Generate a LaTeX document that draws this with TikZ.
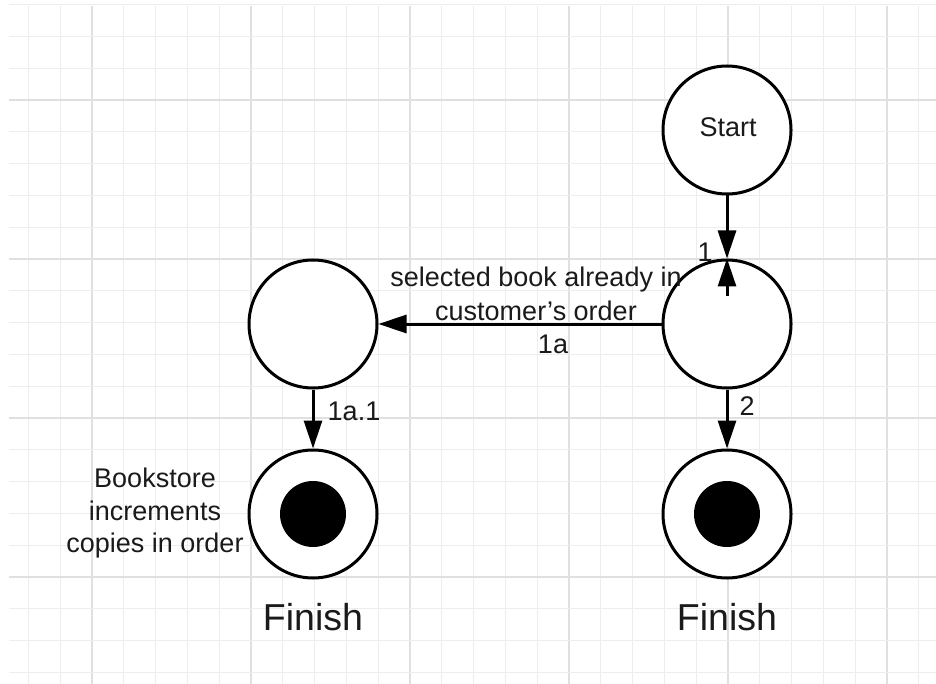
\documentclass[tikz,border=0pt]{standalone}
\usepackage{fontspec}
\setmainfont{Liberation Sans}
\usetikzlibrary{arrows.meta}
\definecolor{gridminor}{HTML}{EDEDED}
\definecolor{gridmajor}{HTML}{E0E0E0}
\definecolor{ink}{HTML}{1A1A1A}
\begin{document}
\begin{tikzpicture}[x=1pt,y=-1pt,
  state/.style={circle,draw=black,line width=3pt,minimum size=128pt,inner sep=0pt,fill=white},
  dot/.style={circle,fill=black,minimum size=66pt,inner sep=0pt},
  arr/.style={line width=3pt,-{Triangle[length=28pt,width=18pt]}},
  lbl/.style={text=ink,font=\fontsize{27}{33}\selectfont,inner sep=0pt,anchor=base},
  big/.style={text=ink,font=\fontsize{37.5}{40}\selectfont,inner sep=0pt,anchor=base}]
\useasboundingbox (0,0) rectangle (936,684);
\fill[white] (0,0) rectangle (936,684);
% grid
\foreach \k in {-2,...,26}{
  \pgfmathsetmacro{\xx}{92+31.8*\k}
  \pgfmathtruncatemacro{\m}{mod(\k+10,5)}
  \ifnum\m=0 \draw[gridmajor,line width=1.3pt] (\xx,6) -- (\xx,684);
  \else \draw[gridminor,line width=1.1pt] (\xx,6) -- (\xx,684); \fi
}
\foreach \k in {-3,...,18}{
  \pgfmathsetmacro{\yy}{100+31.8*\k}
  \pgfmathtruncatemacro{\m}{mod(\k+10,5)}
  \ifnum\m=0 \draw[gridmajor,line width=1.3pt] (9,\yy) -- (936,\yy);
  \else \draw[gridminor,line width=1.1pt] (9,\yy) -- (936,\yy); \fi
}
% states
\node[state] (start) at (727,130) {};
\node[lbl] (starttxt) at (728,137) {Start};
\node[state] (mid) at (727,324) {};
\node[state] (left) at (313,324) {};
\node[state] (fin1) at (313,514) {};
\node[dot] (fin1dot) at (313,514) {};
\node[state] (fin2) at (727,514) {};
\node[dot] (fin2dot) at (727,514) {};
% connectors
\draw[arr] (start) -- (mid);
\coordinate (midin) at (727,296);
\draw[arr] (midin) -- (mid.north);
\draw[arr] (mid) -- (left);
\draw[arr] (left) -- (fin1);
\draw[arr] (mid) -- (fin2);
% labels
\node[lbl] (l1) at (705,262) {1};
\node[lbl] (la1) at (536,287) {selected book already in};
\node[lbl] (la2) at (536,320) {customer’s order};
\node[lbl] (la3) at (553,353) {1a};
\node[lbl] (la11) at (354,420) {1a.1};
\node[lbl] (l2) at (747,415) {2};
\node[lbl] (b1) at (155,487) {Bookstore};
\node[lbl] (b2) at (155,520) {increments};
\node[lbl] (b3) at (155,552) {copies in order};
\node[big] (f1) at (313,630) {Finish};
\node[big] (f2) at (727,630) {Finish};
\end{tikzpicture}
\end{document}
